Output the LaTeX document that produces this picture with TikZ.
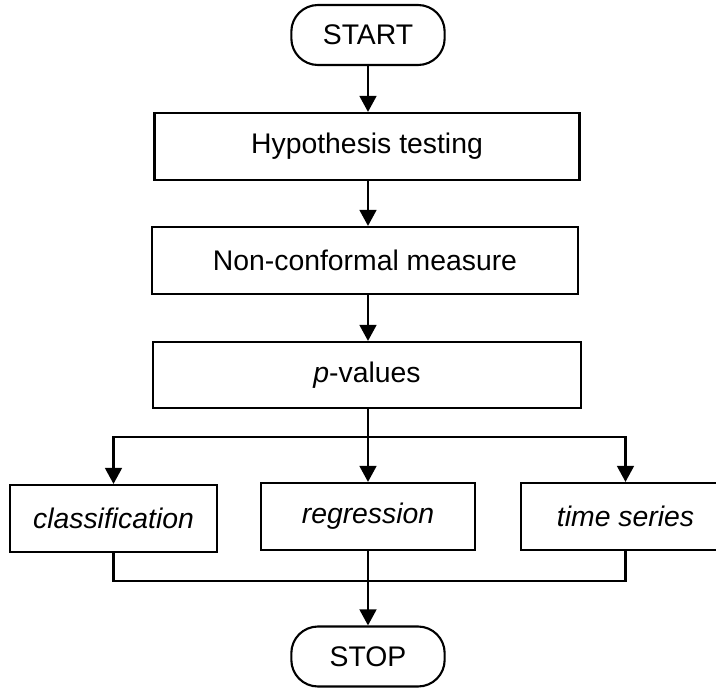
\documentclass[tikz,border=0pt]{standalone}
\usepackage{fontspec}
\setmainfont{Liberation Sans}
\usetikzlibrary{arrows.meta,positioning}

\begin{document}
\begin{tikzpicture}[x=0.03cm,y=-0.03cm,
  box/.style={draw=black, line width=1.8pt, fill=white, font=\fontsize{24.2}{28}\selectfont, inner sep=0pt, minimum height=2.01cm, align=center},
  term/.style={box, rounded corners=0.8cm, minimum width=4.6cm, minimum height=1.8cm},
  arr/.style={-{Triangle[length=0.48cm,width=0.5cm]}, line width=2.1pt},
  lin/.style={line width=2.1pt}]
  \useasboundingbox (0,0) rectangle (716,689);
  % main chain
  \node[term] (start) at (368,35) {START};
  \node[box, minimum width=12.75cm] (hyp) at (367,146.5) {Hypothesis testing};
  \node[box, minimum width=12.8cm] (ncm) at (365,260.5) {Non-conformal measure};
  \node[box, minimum width=12.84cm, minimum height=1.98cm] (pval) at (367,375) {\textit{p}-values};
  % tasks
  \node[box, minimum width=6.2cm] (cls) at (113.5,518.5) {\textit{classification}};
  \node[box, minimum width=6.4cm] (reg) at (368,516.5) {\textit{regression}};
  \node[box, minimum width=6.27cm] (tser) at (625.5,516.5) {\textit{time series}};
  \node[term] (stop) at (368,656.5) {STOP};
  \coordinate (split) at (368,437);
  \coordinate (join) at (368,581);
  % links
  \draw[arr] (start) -- (start |- hyp.north);
  \draw[arr] (start |- hyp.south) -- (start |- ncm.north);
  \draw[arr] (start |- ncm.south) -- (start |- pval.north);
  \draw[lin] (start |- pval.south) -- (split);
  \draw[arr] (split) -| (cls.north);
  \draw[arr] (split) -- (reg.north);
  \draw[arr] (split) -| (tser.north);
  \draw[lin] (cls.south) |- (join);
  \draw[lin] (tser.south) |- (join);
  \draw[arr] (reg.south) -- (stop.north);
\end{tikzpicture}
\end{document}
